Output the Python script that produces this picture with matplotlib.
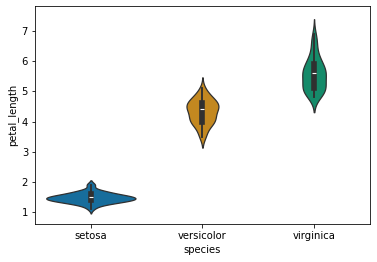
import pandas as pd
import matplotlib
matplotlib.use("Agg")
import matplotlib.pyplot as plt
import seaborn as sns

# petal_length per species (iris values; the lowest few in each group are not in the chart)
species = ['setosa', 'versicolor', 'virginica']
setosa = [1.4, 1.4, 1.3, 1.5, 1.4, 1.7, 1.4, 1.5, 1.4, 1.5, 1.5, 1.6, 1.4, 1.1, 1.2,
          1.5, 1.3, 1.4, 1.7, 1.5, 1.7, 1.5, 1.7, 1.9, 1.6, 1.6, 1.5, 1.4, 1.6,
          1.6, 1.5, 1.5, 1.4, 1.5, 1.2, 1.3, 1.4, 1.3, 1.5, 1.3, 1.3, 1.3, 1.6, 1.9,
          1.4, 1.6, 1.4, 1.5, 1.4]
versicolor = [4.7, 4.5, 4.9, 4.0, 4.6, 4.5, 4.7, 4.6, 3.9, 3.5, 4.2, 4.0, 4.7, 3.6,
              4.4, 4.5, 4.1, 4.5, 3.9, 4.8, 4.0, 4.9, 4.7, 4.3, 4.4, 4.8, 5.0, 4.5, 3.5,
              3.8, 3.7, 3.9, 5.1, 4.5, 4.5, 4.7, 4.4, 4.1, 4.0, 4.4, 4.6, 4.0, 4.2,
              4.2, 4.2, 4.3, 4.1]
virginica = [6.0, 5.1, 5.9, 5.6, 5.8, 6.6, 6.3, 5.8, 6.1, 5.1, 5.3, 5.5, 5.0, 5.1,
             5.3, 5.5, 6.7, 6.9, 5.0, 5.7, 4.9, 6.7, 4.9, 5.7, 6.0, 4.8, 4.9, 5.6, 5.8,
             6.1, 6.4, 5.6, 5.1, 5.6, 6.1, 5.6, 5.5, 4.8, 5.4, 5.6, 5.1, 5.1, 5.9, 5.7,
             5.2, 5.0, 5.2, 5.4, 5.1]

df = pd.DataFrame({
    'species': ['setosa'] * len(setosa) + ['versicolor'] * len(versicolor)
               + ['virginica'] * len(virginica),
    'petal_length': setosa + versicolor + virginica,
})

fig = plt.figure(figsize=(377 / 72, 262 / 72), dpi=72)
ax = fig.add_axes([0.093, 0.145, 0.888, 0.832])
sns.violinplot(data=df, x='species', y='petal_length', hue='species',
               order=species, palette='colorblind', legend=False,
               common_norm=True, ax=ax)
ax.set_ylim(0.6, 7.83)
ax.set_xlim(-0.5, 2.5)

fig.savefig('out.png', dpi=72)
